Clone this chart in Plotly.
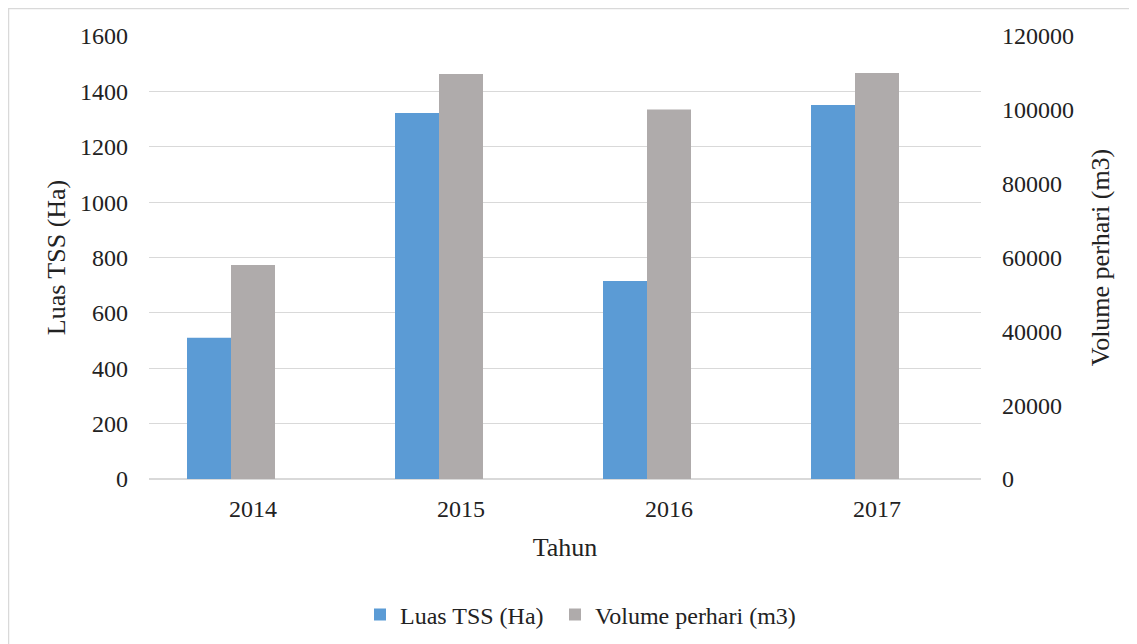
import plotly.graph_objects as go

years = ["2014", "2015", "2016", "2017"]
luas_tss = [510, 1322, 715, 1351]
volume_perhari = [58000, 109700, 100100, 110000]

# page has an 8px body margin; size figure to fit the 1137x644 window
OFF = 8
W, H = 1137 - OFF, 644 - OFF
L, T = 149 - OFF, 36 - OFF
R = (W + OFF) - 981
B = (H + OFF) - 479
pw, ph = W - L - R, H - T - B

bw = 0.2115
font = "Liberation Serif"
tf = dict(family=font, size=24, color="#222222")
ttl = dict(family=font, size=26, color="#222222")

fig = go.Figure()
fig.add_trace(go.Bar(x=years, y=luas_tss, name="Luas TSS (Ha)", yaxis="y",
                     marker=dict(color="#5B9BD5", line=dict(width=0)),
                     width=bw, offset=-1.5 * bw, legend="legend"))
fig.add_trace(go.Bar(x=years, y=volume_perhari, name="Volume perhari (m3)", yaxis="y2",
                     marker=dict(color="#AFABAB", line=dict(width=0)),
                     width=bw, offset=-0.5 * bw, legend="legend2"))

def px_x(p):
    return (p - OFF - L) / pw

def px_y(p):
    return 1 - (p - OFF - T) / ph

leg = dict(orientation="h", xanchor="left", y=px_y(615), yanchor="middle",
           font=tf, itemwidth=30, bgcolor="rgba(0,0,0,0)")

fig.update_layout(
    width=W, height=H,
    margin=dict(l=L, r=R, t=T, b=B, autoexpand=False),
    paper_bgcolor="white", plot_bgcolor="white",
    font=tf,
    barmode="overlay",
    showlegend=True,
    legend=dict(leg, x=px_x(360)),
    legend2=dict(leg, x=px_x(555)),
    xaxis=dict(type="category", range=[-0.5, 3.5], showgrid=False, showline=False,
               ticks="outside", ticklen=8, tickcolor="rgba(0,0,0,0)", tickfont=tf,
               title=dict(text="Tahun", standoff=17, font=ttl)),
    yaxis=dict(range=[0, 1600], dtick=200, showgrid=True, gridcolor="#D9D9D9", gridwidth=1,
               zeroline=True, zerolinecolor="#D9D9D9", showline=False,
               ticks="", ticklabelstandoff=20, tickfont=tf, tickformat="d",
               title=dict(text="Luas TSS (Ha)", standoff=6, font=ttl)),
    yaxis2=dict(range=[0, 120000], dtick=20000, overlaying="y", side="right",
                showgrid=False, zeroline=False, showline=False, ticks="",
                ticklabelstandoff=20, tickfont=tf, tickformat="d",
                title=dict(text="Volume perhari (m3)", standoff=17, font=ttl)),
    shapes=[dict(type="rect", xref="paper", yref="paper",
                 x0=px_x(8.5), x1=px_x(1300), y0=px_y(800), y1=px_y(8.5),
                 line=dict(color="#D9D9D9", width=1.5), fillcolor="rgba(0,0,0,0)",
                 layer="below")],
)

fig.write_html("out.html")
